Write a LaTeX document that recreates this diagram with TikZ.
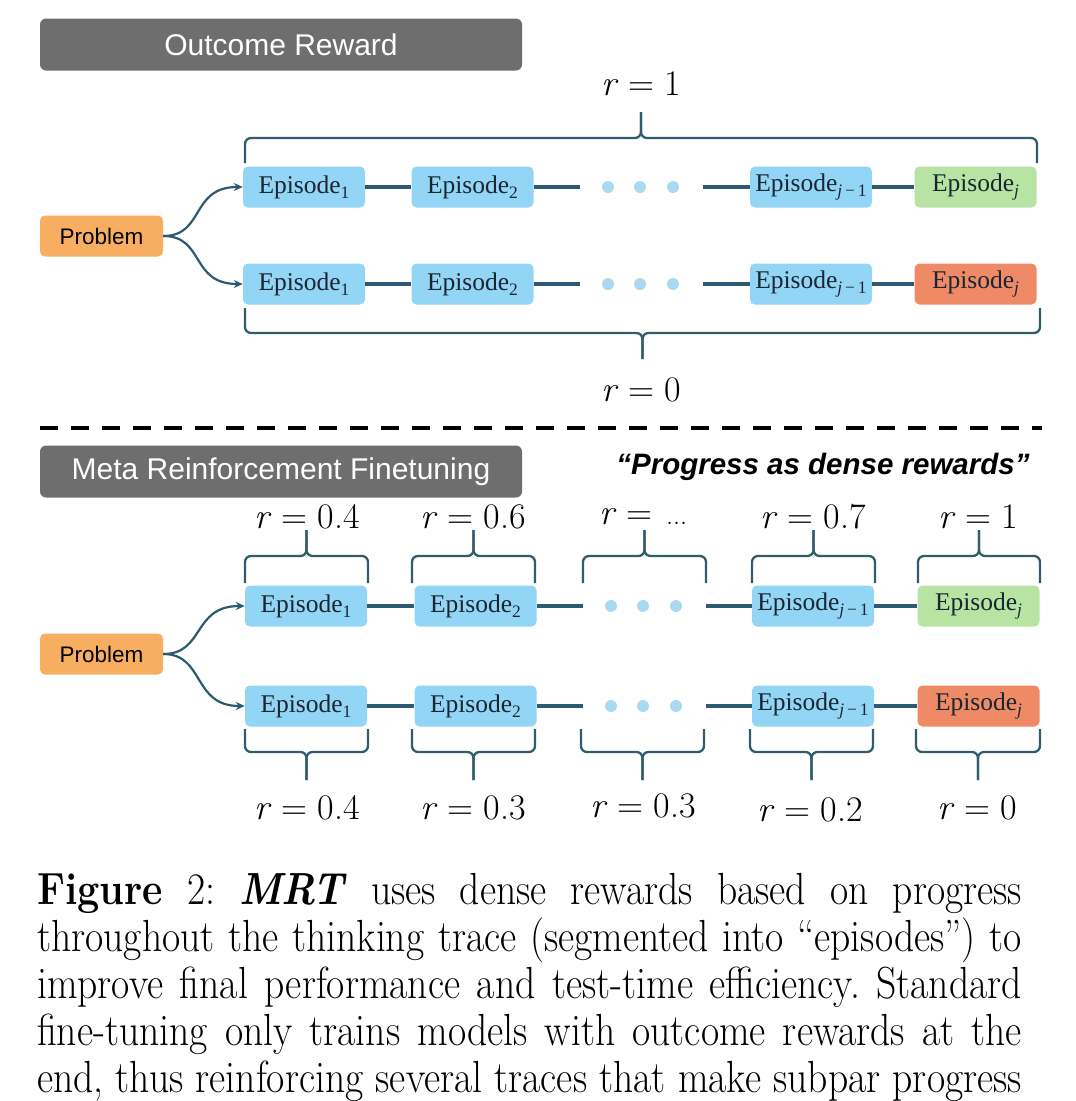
\documentclass[tikz,border=0pt]{standalone}
\usepackage{fontspec}
\usepackage{graphicx}
\usetikzlibrary{arrows.meta}
\newfontfamily\hsans{Liberation Sans}
\newfontfamily\epserif{Liberation Serif}
\definecolor{epblue}{HTML}{93D5F5}
\definecolor{epgreen}{HTML}{B7E4A2}
\definecolor{epred}{HTML}{EE8A66}
\definecolor{probc}{HTML}{F8AE60}
\definecolor{grayc}{HTML}{6E6E6E}
\definecolor{connc}{HTML}{2C5A70}
\definecolor{bracec}{HTML}{2F5D6B}
\definecolor{dotc}{HTML}{A9DAF0}
\definecolor{eptext}{HTML}{1B2633}
\newcommand\epsub[1]{\raisebox{-0.22em}{\fontsize{17.5}{18}\selectfont #1}}
\newcommand\rv[1]{\textit{r}\hspace{0.28em}=\hspace{0.28em}#1}
\tikzset{
  ep/.style={rounded corners=5pt, fill=epblue, minimum width=122pt, minimum height=41pt, inner sep=0pt, text=eptext, font=\epserif\fontsize{25.5}{28}\selectfont},
  epg/.style={ep, fill=epgreen},
  epr/.style={ep, fill=epred},
  prob/.style={rounded corners=5pt, fill=probc, minimum width=123pt, minimum height=41pt, inner sep=0pt, font=\hsans\fontsize{22.5}{26}\selectfont},
  header/.style={rounded corners=6pt, fill=grayc, minimum width=482pt, minimum height=52pt, inner sep=0pt, text=white, font=\hsans\fontsize{30}{34}\selectfont},
  conn/.style={draw=connc, line width=4.5pt},
  arr/.style={draw=connc, line width=2.2pt, -{Stealth[length=9pt,width=8pt]}},
  brace/.style={draw=bracec, line width=2.3pt, rounded corners=6pt},
  lab/.style={inner sep=0pt, font=\fontsize{36}{40}\selectfont},
  dotn/.style={circle, fill=dotc, minimum size=12pt, inner sep=0pt},
}
\newcommand\mybrace[5]{%
  \draw[brace] (#1,#3) -- (#1,#4) -- ({(#1+#2)/2},#4) -- ({(#1+#2)/2},#5);
  \draw[brace] (#2,#3) -- (#2,#4) -- ({(#1+#2)/2},#4) -- ({(#1+#2)/2},#5);}
\begin{document}
\begin{tikzpicture}[x=1pt,y=-1pt]
\useasboundingbox (0,0) rectangle (1076,1101);
% ---------- Outcome reward ----------
\node[header] (h1) at (281,44.5) {Outcome Reward};
\node[lab] (rtop) at (641,84) {\rv{1}};
\node[lab] (rbot) at (641,390) {\rv{0}};
\mybrace{245}{1037}{163}{138}{112}
\mybrace{245}{1040}{308}{333}{359}

\node[prob] (p1) at (101.5,236) {Problem};
\node[ep]  (a1) at (304,187) {Episode\epsub{1}};
\node[ep]  (a2) at (472.5,187) {Episode\epsub{2}};
\node[dotn] (ad1) at (608,187) {};
\node[dotn] (ad2) at (640,187) {};
\node[dotn] (ad3) at (673,187) {};
\node[ep]  (a3) at (811,187) {Episode\epsub{\textit{j}\,−\,1}};
\node[epg] (a4) at (975.5,187) {Episode\epsub{\textit{j}}};
\coordinate (as1) at (580,187);
\coordinate (as2) at (703,187);

\node[ep]  (b1) at (304,284) {Episode\epsub{1}};
\node[ep]  (b2) at (472.5,284) {Episode\epsub{2}};
\node[dotn] (bd1) at (608,284) {};
\node[dotn] (bd2) at (640,284) {};
\node[dotn] (bd3) at (673,284) {};
\node[ep]  (b3) at (811,284) {Episode\epsub{\textit{j}\,−\,1}};
\node[epr] (b4) at (975.5,284) {Episode\epsub{\textit{j}}};
\coordinate (bs1) at (580,284);
\coordinate (bs2) at (703,284);

\draw[conn] (a1) -- (a2); \draw[conn] (a2) -- (as1); \draw[conn] (as2) -- (a3); \draw[conn] (a3) -- (a4);
\draw[conn] (b1) -- (b2); \draw[conn] (b2) -- (bs1); \draw[conn] (bs2) -- (b3); \draw[conn] (b3) -- (b4);
\draw[arr] (p1.east) .. controls (205,236) and (190,187) .. (a1.west);
\draw[arr] (p1.east) .. controls (205,236) and (190,284) .. (b1.west);

% ---------- dashed separator ----------
\draw[line width=4pt, dash pattern=on 18pt off 13pt] (40,428) -- (1042,428);

% ---------- Meta reinforcement finetuning ----------
\node[header] (h2) at (281,471.5) {Meta Reinforcement Finetuning};
\node[inner sep=0pt, font=\hsans\bfseries\itshape\fontsize{29.5}{34}\selectfont] (prog) at (823,467) {“Progress as dense rewards”};

\node[lab] (u1) at (307,517) {\rv{0.4}};
\node[lab] (u2) at (473,517) {\rv{0.6}};
\node[lab] (u3) at (643,517) {\rv{\hspace{0.1em}{\fontsize{28}{30}\selectfont...}}};
\node[lab] (u4) at (813,517) {\rv{0.7}};
\node[lab] (u5) at (978,517) {\rv{1}};
\mybrace{245}{368}{583}{556}{530}
\mybrace{412}{535}{583}{556}{530}
\mybrace{583}{706}{583}{556}{530}
\mybrace{752}{875}{583}{556}{530}
\mybrace{918}{1040}{583}{556}{530}

\node[prob] (p2) at (101.5,654) {Problem};
\node[ep]  (c1) at (306,606) {Episode\epsub{1}};
\node[ep]  (c2) at (475.5,606) {Episode\epsub{2}};
\node[dotn] (cd1) at (611,606) {};
\node[dotn] (cd2) at (643,606) {};
\node[dotn] (cd3) at (676,606) {};
\node[ep]  (c3) at (813,606) {Episode\epsub{\textit{j}\,−\,1}};
\node[epg] (c4) at (978.5,606) {Episode\epsub{\textit{j}}};
\coordinate (cs1) at (583,606);
\coordinate (cs2) at (706,606);

\node[ep]  (e1) at (306,706) {Episode\epsub{1}};
\node[ep]  (e2) at (475.5,706) {Episode\epsub{2}};
\node[dotn] (ed1) at (611,706) {};
\node[dotn] (ed2) at (643,706) {};
\node[dotn] (ed3) at (676,706) {};
\node[ep]  (e3) at (813,706) {Episode\epsub{\textit{j}\,−\,1}};
\node[epr] (e4) at (978.5,706) {Episode\epsub{\textit{j}}};
\coordinate (es1) at (583,706);
\coordinate (es2) at (706,706);

\draw[conn] (c1) -- (c2); \draw[conn] (c2) -- (cs1); \draw[conn] (cs2) -- (c3); \draw[conn] (c3) -- (c4);
\draw[conn] (e1) -- (e2); \draw[conn] (e2) -- (es1); \draw[conn] (es2) -- (e3); \draw[conn] (e3) -- (e4);
\draw[arr] (p2.east) .. controls (205,654) and (192,606) .. (c1.west);
\draw[arr] (p2.east) .. controls (205,654) and (192,706) .. (e1.west);

\mybrace{245}{368}{729}{752}{780}
\mybrace{412}{535}{729}{752}{780}
\mybrace{581}{704}{729}{752}{780}
\mybrace{750}{873}{729}{752}{780}
\mybrace{916}{1040}{729}{752}{780}

\node[lab] (l1) at (307,808) {\rv{0.4}};
\node[lab] (l2) at (473,808) {\rv{0.3}};
\node[lab] (l3) at (643,806) {\rv{0.3}};
\node[lab] (l4) at (810,810) {\rv{0.2}};
\node[lab] (l5) at (977,808) {\rv{0}};

% ---------- caption ----------
\node[anchor=base west, inner sep=0pt] (cap) at (37,904) {\scalebox{0.88}[1]{\parbox[t]{1119pt}{\fontsize{45}{47.2}\selectfont
\hyphenpenalty=10000 \parfillskip=0pt \parindent=0pt \frenchspacing
\textbf{Figure} 2: \textbf{\textit{MRT}} uses dense rewards based on progress\linebreak
throughout the thinking trace (segmented into “episodes”) to\linebreak
improve final performance and test-time efficiency. Standard\linebreak
fine-tuning only trains models with outcome rewards at the\linebreak
end, thus reinforcing several traces that make subpar progress}}};
\end{tikzpicture}
\end{document}
